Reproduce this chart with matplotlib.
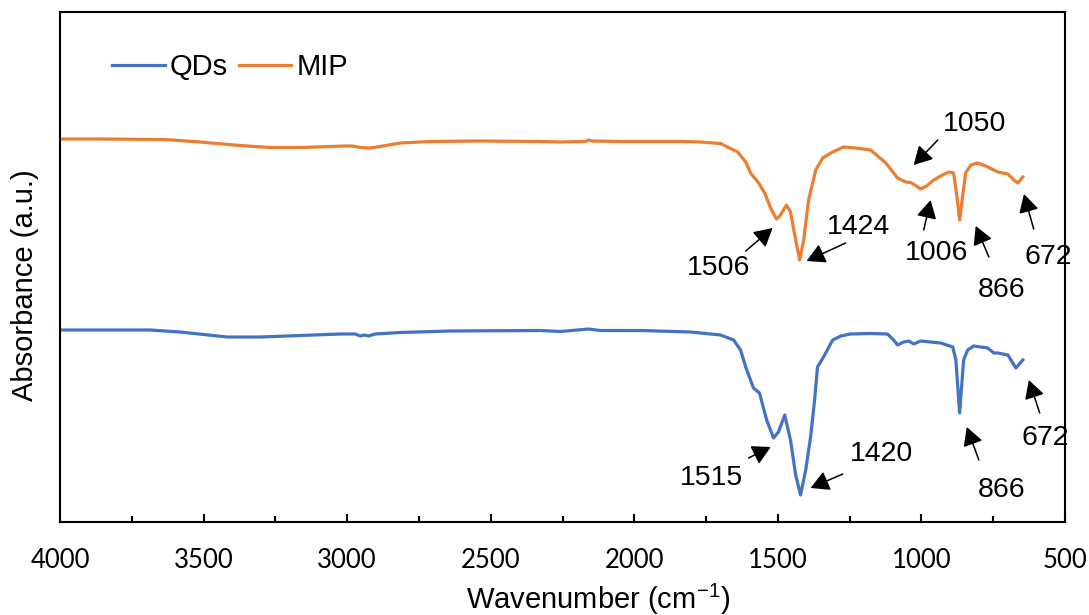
import matplotlib
matplotlib.use('Agg')
from matplotlib import pyplot as plt

plt.rcParams['font.family'] = ['Liberation Sans', 'DejaVu Sans']
plt.rcParams['mathtext.fontset'] = 'custom'
plt.rcParams['mathtext.rm'] = 'Liberation Sans'
plt.rcParams['mathtext.it'] = 'Liberation Sans:italic'
plt.rcParams['mathtext.bf'] = 'Liberation Sans:bold'

# FTIR spectra (absorbance in arbitrary units, curves offset vertically)
mip_wn = [3993, 3861, 3634, 3512, 3373, 3268, 3163, 3007, 2982, 2954, 2920, 2885,
          2815, 2710, 2536, 2327, 2257, 2170, 2160, 2146, 2048, 1978, 1839, 1769,
          1700, 1640, 1612, 1595, 1567, 1546, 1525, 1505, 1491, 1470, 1456, 1438,
          1424, 1410, 1393, 1368, 1344, 1309, 1271, 1229, 1177, 1124, 1083, 1055,
          1037, 1023, 1003, 982, 957, 933, 905, 888, 877, 867, 856, 846, 828, 804,
          776, 734, 699, 678, 664, 647]
mip_abs = [383, 383, 382.5, 380, 376.5, 374.5, 374.5, 376, 376, 374.5, 374, 375.5,
           379, 380.5, 381, 380.5, 380, 380.5, 382, 381, 380.5, 380.5, 380.5, 380,
           378.5, 370, 360, 349, 339, 329, 314, 303, 307, 317, 310, 282,
           262, 282, 322, 352, 364, 370, 375, 374, 372, 359, 344, 340,
           339.5, 337, 333, 336, 342, 346, 350, 349, 327, 302, 327, 349, 357, 359,
           356, 350, 348, 342, 339, 345]

qds_wn = [3993, 3686, 3582, 3418, 3303, 3163, 3024, 2972, 2954, 2940, 2926, 2902,
          2815, 2641, 2327, 2257, 2160, 2118, 1978, 1804, 1769, 1700, 1654, 1630,
          1612, 1585, 1564, 1539, 1515, 1498, 1476, 1456, 1438, 1421, 1403, 1386,
          1372, 1362, 1341, 1309, 1281, 1247, 1177, 1118, 1097, 1083, 1062, 1044,
          1027, 1003, 933, 891, 880, 867, 853, 839, 818, 769, 748, 734, 699, 671, 647]
qds_abs = [192, 192, 190, 185, 185, 186.5, 188, 188, 186, 187, 186, 188,
           189.5, 191, 191.5, 190.5, 193, 191.5, 191.5, 190, 189, 187, 182, 172,
           155, 134, 129, 102, 84, 90, 107, 82, 47, 27, 52, 85,
           122, 155, 165, 182, 186, 188, 188.5, 188, 182, 177, 180, 181,
           178, 181, 179, 175, 162, 109, 162, 172, 176, 174, 169, 169, 167, 154, 162]

# peak labels: text, text position, arrow tail, arrow head
peak_labels = ['1506', '1424', '1050', '1006', '866', '672',
               '1515', '1420', '866', '672']
label_pos = [(1707, 254), (1219, 295), (814, 398), (947, 269), (720, 232), (560, 265),
             (1731, 44), (1138, 68), (720, 32), (570, 84)]
arrow_tail = [(1612, 271), (1264, 279), (943, 382), (992, 292), (765, 265), (609, 293),
              (1602, 64), (1274, 48), (800, 62), (588, 109)]
arrow_head = [(1518, 294), (1400, 261), (1027, 357), (968, 322), (811, 296), (643, 328),
              (1525, 75), (1386, 34), (842, 95), (626, 142)]

fig = plt.figure(figsize=(10.89, 6.15), dpi=100)
ax = fig.add_axes([60 / 1089, 93 / 615, 1005 / 1089, 510 / 615])

ax.plot(qds_wn, qds_abs, color='#4472C4', lw=2.3, label='QDs', solid_joinstyle='round')
ax.plot(mip_wn, mip_abs, color='#ED7D31', lw=2.3, label='MIP', solid_joinstyle='round')

for txt, pos, tail, head in zip(peak_labels, label_pos, arrow_tail, arrow_head):
    ax.annotate('', xy=head, xytext=tail,
                arrowprops=dict(arrowstyle='-|>,head_length=0.4,head_width=0.22',
                                color='black', lw=1.1, mutation_scale=28,
                                shrinkA=0, shrinkB=0))
    ax.text(pos[0], pos[1], txt, fontsize=20.5, ha='center', va='center')

ax.set_xlim(4000, 500)
ax.set_ylim(0, 510)
ax.set_xticks(range(4000, 499, -500))
ax.set_xticks(range(3750, 500, -500), minor=True)
ax.set_yticks([])
ax.tick_params(axis='x', which='major', direction='in', length=6, width=1.5, pad=19)
ax.tick_params(axis='x', which='minor', direction='in', length=4.5, width=1.5)
for lab in ax.get_xticklabels():
    lab.set_fontfamily(['Lato', 'DejaVu Sans'])
    lab.set_fontsize(18.5)
for spine in ax.spines.values():
    spine.set_linewidth(1.5)

ax.set_xlabel('Wavenumber (cm$^{-1}$)', fontsize=21)
ax.xaxis.set_label_coords(0.535, -0.117)
ax.set_ylabel('Absorbance (a.u.)', fontsize=21)
ax.yaxis.set_label_coords(-0.021, 0.465)

ax.legend(loc='center left', bbox_to_anchor=(0.052, 0.892), frameon=False,
          fontsize=21, ncol=2, borderpad=0, borderaxespad=0, handlelength=1.8,
          handletextpad=0.17, columnspacing=0.38)

fig.savefig('out.png', dpi=100)
